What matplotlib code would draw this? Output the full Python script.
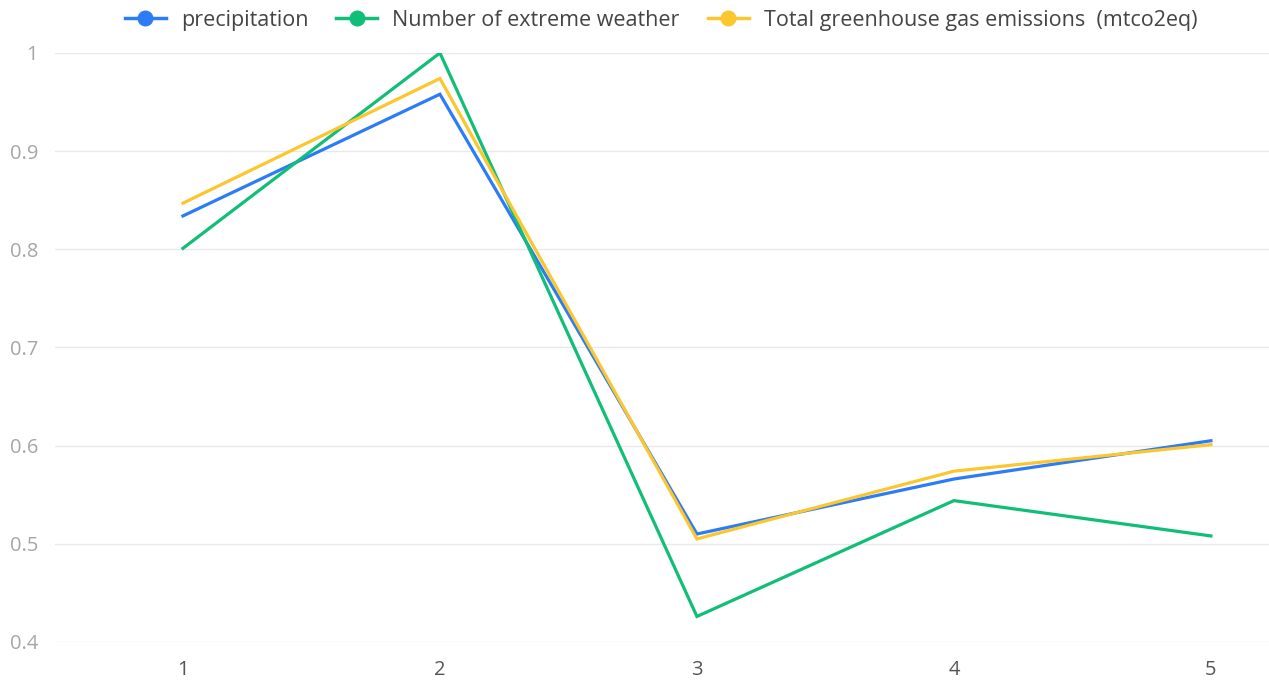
import matplotlib.pyplot as plt
from matplotlib.ticker import FuncFormatter

plt.rcParams['font.family'] = ['Open Sans', 'DejaVu Sans']

periods = [1, 2, 3, 4, 5]
precipitation = [0.834, 0.958, 0.510, 0.566, 0.605]
extreme_weather = [0.801, 1.000, 0.426, 0.544, 0.508]
ghg_emissions = [0.847, 0.974, 0.505, 0.574, 0.601]

series = [
    ("precipitation", precipitation, "#2b7cf6"),
    ("Number of extreme weather", extreme_weather, "#10be78"),
    ("Total greenhouse gas emissions  (mtco2eq)", ghg_emissions, "#fcc62e"),
]

fig = plt.figure(figsize=(12.69, 6.81), dpi=100)
ax = fig.add_axes([0.0433, 0.0573, 0.9567, 0.8649])

for name, values, color in series:
    ax.plot(periods, values, color=color, linewidth=2.3, label=name,
            solid_joinstyle="miter")

ax.set_xlim(0.502, 5.226)
ax.set_ylim(0.4, 1.0)
ax.set_yticks([0.4, 0.5, 0.6, 0.7, 0.8, 0.9, 1.0])
ax.yaxis.set_major_formatter(FuncFormatter(lambda v, p: f"{v:g}"))
ax.set_xticks(periods)

ax.grid(axis="y", color="#e9e9e9", linewidth=1)
ax.set_axisbelow(True)
for s in ax.spines.values():
    s.set_visible(False)
ax.tick_params(axis="both", length=0, colors="#a6a6a6", labelsize=14.5)
ax.tick_params(axis="x", colors="#555555", pad=13)
ax.tick_params(axis="y", pad=12)

# legend handles with a dot on the line
handles = []
for name, values, color in series:
    h, = ax.plot([], [], color=color, linewidth=2.5, marker="o",
                 markersize=10.5, label=name)
    handles.append(h)
leg = fig.legend(handles=handles, loc="center", bbox_to_anchor=(0.521, 0.970),
                 ncol=3, frameon=False, fontsize=15.5, handlelength=1.9,
                 columnspacing=1.3, handletextpad=0.7)
for t in leg.get_texts():
    t.set_color("#444444")

fig.savefig("out.png", dpi=100, facecolor="white")
